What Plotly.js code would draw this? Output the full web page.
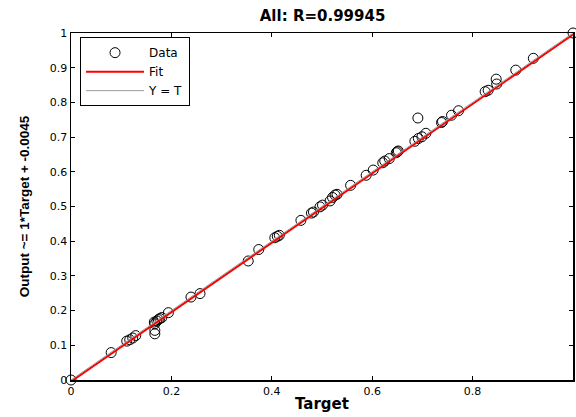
<!DOCTYPE html>
<html>
<head>
<meta charset="utf-8">
<script src="https://cdn.plot.ly/plotly-3.0.1.min.js"></script>
<style>html,body{margin:0;padding:0;background:#fff;}#chart{width:576px;height:417px;}</style>
</head>
<body>
<div id="chart"></div>
<script>
// Data
const target = [0, 0.080, 0.111, 0.117, 0.123, 0.129, 0.166, 0.167, 0.171, 0.174, 0.177, 0.181, 0.167, 0.167, 0.194,
  0.239, 0.257, 0.353, 0.374, 0.406, 0.411, 0.415, 0.458, 0.479, 0.483, 0.496, 0.501, 0.516, 0.521, 0.526, 0.530,
  0.557, 0.588, 0.602, 0.621, 0.625, 0.634, 0.648, 0.650, 0.652, 0.685, 0.692, 0.699, 0.707, 0.691, 0.738, 0.740,
  0.758, 0.772, 0.825, 0.831, 0.848, 0.847, 0.886, 0.921, 1.0];
const output = [0, 0.079, 0.112, 0.116, 0.121, 0.128, 0.167, 0.162, 0.170, 0.174, 0.177, 0.180, 0.143, 0.133, 0.194,
  0.239, 0.249, 0.343, 0.376, 0.410, 0.414, 0.417, 0.460, 0.481, 0.484, 0.499, 0.504, 0.516, 0.526, 0.533, 0.535,
  0.561, 0.590, 0.605, 0.626, 0.631, 0.638, 0.655, 0.658, 0.660, 0.688, 0.696, 0.701, 0.711, 0.755, 0.742, 0.745,
  0.763, 0.776, 0.831, 0.835, 0.853, 0.867, 0.893, 0.927, 1.0];
const fitX = [0, 1];
const fitY = [-0.0045, 0.9955];
const identX = [0, 1];
const identY = [0, 1];
const xTicks = [0, 0.2, 0.4, 0.6, 0.8, 1];
const xTickText = ['0', '0.2', '0.4', '0.6', '0.8', '1'];
const yTicks = [0, 0.1, 0.2, 0.3, 0.4, 0.5, 0.6, 0.7, 0.8, 0.9, 1];
const yTickText = ['0', '0.1', '0.2', '0.3', '0.4', '0.5', '0.6', '0.7', '0.8', '0.9', '1'];

const wide = 'DejaVu Sans, Verdana, sans-serif';
const narrow = 'Liberation Sans, Arial, sans-serif';

const traces = [
  {x: target, y: output, type: 'scatter', mode: 'markers', name: 'Data', cliponaxis: false,
   marker: {symbol: 'circle-open', size: 10, color: '#000', line: {width: 1, color: '#000'}}},
  {x: fitX, y: fitY, type: 'scatter', mode: 'lines', name: 'Fit',
   line: {color: '#ff0000', width: 2}},
  {x: identX, y: identY, type: 'scatter', mode: 'lines', name: 'Y = T',
   line: {color: '#999999', width: 1}}
];

const axisBase = {
  showgrid: false, zeroline: false, showline: true, linecolor: '#000', linewidth: 1.5,
  mirror: 'ticks', ticks: 'inside', ticklen: 4, tickcolor: '#000', tickwidth: 1,
  tickfont: {family: wide, size: 11, color: '#000'}
};

const layout = {
  width: 576, height: 417,
  margin: {l: 71, r: 3, t: 33, b: 37},
  paper_bgcolor: '#fff', plot_bgcolor: '#fff',
  title: {text: 'All: R=0.99945', font: {family: wide, size: 15, color: '#000', weight: 'bold'},
          x: 0.56, xanchor: 'center', y: 0.962, yanchor: 'middle'},
  xaxis: Object.assign({}, axisBase, {range: [0, 1], tickvals: xTicks, ticktext: xTickText,
          title: {text: 'Target', font: {family: wide, size: 15, color: '#000', weight: 'bold'}, standoff: 2}}),
  yaxis: Object.assign({}, axisBase, {range: [0, 1], tickvals: yTicks, ticktext: yTickText,
          title: {text: 'Output ~= 1*Target + -0.0045', font: {family: narrow, size: 13.5, color: '#000', weight: 'bold'}, standoff: 17}}),
  showlegend: true,
  legend: {x: 0.018, y: 0.988, xanchor: 'left', yanchor: 'top', bgcolor: '#fff',
           bordercolor: '#000', borderwidth: 1, font: {family: wide, size: 12, color: '#000'},
           itemwidth: 58, tracegroupgap: 0}
};

Plotly.newPlot('chart', traces, layout, {displayModeBar: false, staticPlot: true});
</script>
</body>
</html>
